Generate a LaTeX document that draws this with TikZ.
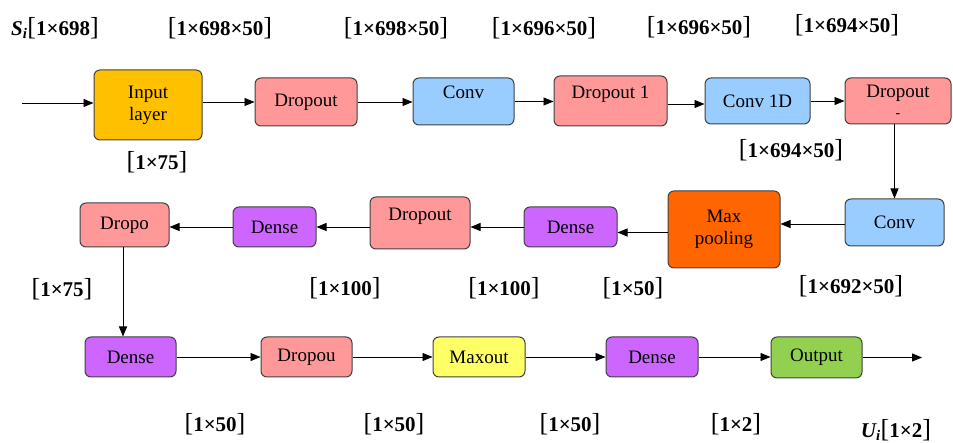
\documentclass[tikz,border=0pt]{standalone}
\usepackage{fontspec}
\setmainfont{Liberation Serif}
\usetikzlibrary{arrows.meta}

\definecolor{inputc}{HTML}{FFC000}
\definecolor{dropc}{HTML}{FF9999}
\definecolor{convc}{HTML}{99CCFF}
\definecolor{poolc}{HTML}{FF6600}
\definecolor{densec}{HTML}{CC66FF}
\definecolor{maxoutc}{HTML}{FFFF66}
\definecolor{outc}{HTML}{92D050}
\definecolor{edgec}{HTML}{404040}

% tensor shape label: bold figures between tall brackets
\newcommand{\shp}[1]{{\fontsize{26}{26}\selectfont[}{\fontsize{21}{21}\selectfont\bfseries #1}{\fontsize{26}{26}\selectfont]}}

\tikzset{
  blk/.style={draw=edgec, line width=1pt, rounded corners=6pt, inner sep=0pt,
    align=center, font=\fontsize{19}{22}\selectfont},
  arr/.style={draw=black, line width=0.9pt, -{Triangle[length=10pt,width=8pt]}},
  lbl/.style={inner sep=0pt, anchor=center}
}

\begin{document}
\begin{tikzpicture}[x=1pt,y=-1pt]
\useasboundingbox (0,0) rectangle (953,443);

% first row
\node[blk, fill=inputc, minimum width=108pt, minimum height=70pt] (in)  at (148,105)   {Input\\layer};
\node[blk, fill=dropc,  minimum width=102pt, minimum height=48pt] (d1)  at (306,102)   {Dropout};
\node[blk, fill=convc,  minimum width=101pt, minimum height=47pt] (c1)  at (463.5,101.5) {Conv\\[-4pt]\phantom{-}};
\node[blk, fill=dropc,  minimum width=113pt, minimum height=50pt] (d2)  at (610.5,101) {Dropout 1\\[-4pt]\phantom{-}};
\node[blk, fill=convc,  minimum width=105pt, minimum height=46pt] (c2)  at (757.5,101) {Conv 1D};
\node[blk, fill=dropc,  minimum width=106pt, minimum height=46pt] (d3)  at (898,101)   {Dropout\\[-2pt]{\fontsize{14}{14}\selectfont -}};

% second row, running right to left
\node[blk, fill=convc,  minimum width=99pt,  minimum height=47pt] (c3)  at (894.5,222.5) {Conv};
\node[blk, fill=poolc,  minimum width=112pt, minimum height=77pt] (mp)  at (724,229.5) {Max\\pooling};
\node[blk, fill=densec, minimum width=93pt,  minimum height=40pt] (de1) at (570.5,227) {Dense};
\node[blk, fill=dropc,  minimum width=100pt, minimum height=52pt] (d4)  at (420,223)   {Dropout\\[-4pt]\phantom{-}};
\node[blk, fill=densec, minimum width=83pt,  minimum height=40pt] (de2) at (274.5,227) {Dense};
\node[blk, fill=dropc,  minimum width=89pt,  minimum height=44pt] (d5)  at (124.5,225) {Dropo};

% third row
\node[blk, fill=densec,  minimum width=91pt, minimum height=40pt] (de3) at (130.5,357) {Dense};
\node[blk, fill=dropc,   minimum width=91pt, minimum height=40pt] (d6)  at (306.5,357) {Dropou};
\node[blk, fill=maxoutc, minimum width=92pt, minimum height=40pt] (mo)  at (479,357)   {Maxout};
\node[blk, fill=densec,  minimum width=92pt, minimum height=40pt] (de4) at (652,357)   {Dense};
\node[blk, fill=outc,    minimum width=91pt, minimum height=41pt] (out) at (816.5,357.5) {Output};

% free ends of the input and output arrows
\coordinate (src)  at (22,103);
\coordinate (sink) at (922,357.5);

% connectors
\draw[arr] (src) -- (src -| in.west);
\draw[arr] (in.east |- d1) -- (d1.west);
\draw[arr] (d1.east) -- (d1.east -| c1.west);
\draw[arr] (c1.east) -- (c1.east -| d2.west);
\draw[arr] ([yshift=-3pt]d2.east) -- ([yshift=-3pt]d2.east -| c2.west);
\draw[arr] (c2.east) -- (c2.east -| d3.west);
\draw[arr] (c3.north |- d3.south) -- (c3.north);
\draw[arr] ([yshift=-1.5pt]c3.west) -- ([yshift=-1.5pt]c3.west -| mp.east);
\draw[arr] ([yshift=-3pt]mp.west) -- ([yshift=-3pt]mp.west -| de1.east);
\draw[arr] (de1.west) -- (de1.west -| d4.east);
\draw[arr] (d4.west |- de2) -- (de2.east);
\draw[arr] (de2.west) -- (de2.west -| d5.east);
\draw[arr] ([xshift=-1.5pt]d5.south) -- ([xshift=-1.5pt]d5.south |- de3.north);
\draw[arr] (de3.east) -- (de3.east -| d6.west);
\draw[arr] (d6.east) -- (d6.east -| mo.west);
\draw[arr] (mo.east) -- (mo.east -| de4.west);
\draw[arr] (de4.east) -- (de4.east -| out.west);
\draw[arr] (out.east |- sink) -- (sink);

% tensor shapes
\node[lbl] (t1)  at (55,28)   {{\fontsize{21}{21}\selectfont\bfseries\itshape S\textsubscript{i}}\shp{1×698}};
\node[lbl] (t2)  at (220,28)  {\shp{1×698×50}};
\node[lbl] (t3)  at (396,28)  {\shp{1×698×50}};
\node[lbl] (t4)  at (544,28)  {\shp{1×696×50}};
\node[lbl] (t5)  at (699,27)  {\shp{1×696×50}};
\node[lbl] (t6)  at (847,25)  {\shp{1×694×50}};
\node[lbl] (t7)  at (157,162) {\shp{1×75}};
\node[lbl] (t8)  at (791,150) {\shp{1×694×50}};
\node[lbl] (t9)  at (62,289)  {\shp{1×75}};
\node[lbl] (t10) at (345,288) {\shp{1×100}};
\node[lbl] (t11) at (504,288) {\shp{1×100}};
\node[lbl] (t12) at (633,288) {\shp{1×50}};
\node[lbl] (t13) at (851,286) {\shp{1×692×50}};
\node[lbl] (t14) at (215,424) {\shp{1×50}};
\node[lbl] (t15) at (394,424) {\shp{1×50}};
\node[lbl] (t16) at (570,424) {\shp{1×50}};
\node[lbl] (t17) at (736,424) {\shp{1×2}};
\node[lbl] (t18) at (896,430) {{\fontsize{21}{21}\selectfont\bfseries\itshape U\textsubscript{i}}\shp{1×2}};
\end{tikzpicture}
\end{document}
